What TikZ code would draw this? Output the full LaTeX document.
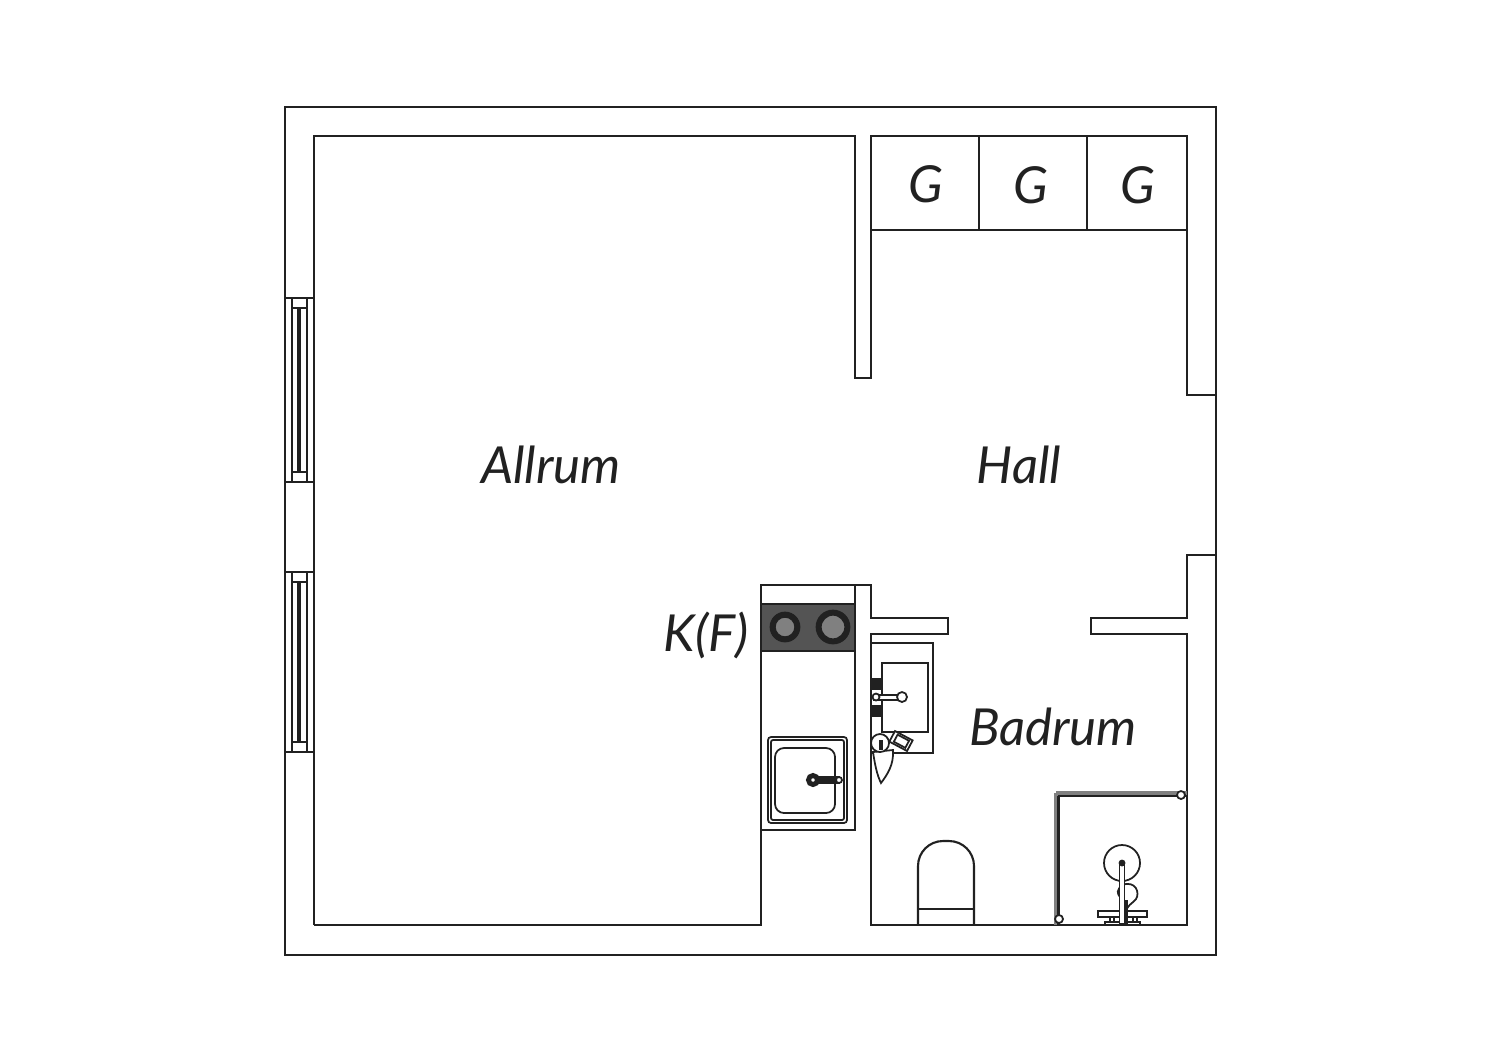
\documentclass[tikz,border=0pt]{standalone}
\usepackage{fontspec}
\setmainfont{Lato}
\definecolor{linegray}{gray}{0.13}
\definecolor{hobgray}{gray}{0.33}
\definecolor{ringgray}{gray}{0.5}
\tikzset{
  wall/.style={draw=linegray,line width=0.6pt},
  fixture/.style={draw=linegray,line width=0.5pt},
  roomlabel/.style={font=\fontsize{14.5}{16}\selectfont\itshape,text=linegray,inner sep=0pt},
}
\begin{document}
\begin{tikzpicture}[x=0.01cm,y=-0.01cm]
\useasboundingbox (0,0) rectangle (1500,1060);
% walls
\draw[wall](285,107) rectangle (1216,955);
\draw[wall](314,925)--(314,136)--(855,136)--(855,378)--(871,378)--(871,136)--(1187,136)--(1187,395)--(1216,395);
\draw[wall](1216,555)--(1187,555)--(1187,618)--(1091,618)--(1091,634)--(1187,634)--(1187,925)--(871,925)--(871,634)--(948,634)--(948,618)--(871,618)--(871,585)--(761,585)--(761,925)--(314,925);
\draw[wall](855,585)--(855,830)--(761,830);
% wardrobes
\draw[wall](871,230)--(1187,230);
\draw[wall](979,136)--(979,230);
\draw[wall](1087,136)--(1087,230);
% windows
\draw[fixture](285,298)--(314,298);
\draw[fixture](285,482)--(314,482);
\draw[fixture](292,298)--(292,482);
\draw[fixture](307,298)--(307,482);
\draw[fixture](292,308)--(307,308);
\draw[fixture](292,472)--(307,472);
\draw[fixture,line width=0.9pt](299,308)--(299,472);
\draw[fixture](285,572)--(314,572);
\draw[fixture](285,752)--(314,752);
\draw[fixture](292,572)--(292,752);
\draw[fixture](307,572)--(307,752);
\draw[fixture](292,582)--(307,582);
\draw[fixture](292,742)--(307,742);
\draw[fixture,line width=0.9pt](299,582)--(299,742);
% hob
\draw[wall,fill=hobgray](761,604) rectangle (855,651);
\draw[fixture,fill=ringgray,line width=1.5pt](785,627) circle [radius=12];
\draw[fixture](785,627) circle [radius=14.5];
\draw[fixture,fill=ringgray,line width=1.5pt](833,627) circle [radius=14];
\draw[fixture](833,627) circle [radius=16.5];
% kitchen sink
\draw[fixture,rounded corners=0.03cm](768,737) rectangle (847,823);
\draw[fixture,rounded corners=0.02cm](771,740) rectangle (844,820);
\draw[fixture,rounded corners=0.09cm](775,748) rectangle (835,813);
\draw[fixture,line width=0.9pt,fill=white](818,778) rectangle (838,782);
\draw[fixture,line width=1.4pt,fill=white](813,780) circle [radius=4.5];
\draw[fixture,fill=white](839,780) circle [radius=3];
% basin
\draw[fixture](871,643)--(933,643)--(933,753)--(871,753);
\draw[fixture](882,663) rectangle (928,732);
\draw[fixture,fill=linegray](871,679) rectangle (881,689);
\draw[fixture,fill=linegray](871,706) rectangle (881,716);
\draw[fixture,fill=white](874,695) rectangle (898,700);
\draw[fixture,fill=white](876,697) circle [radius=3.5];
\draw[fixture,fill=white](902,697) circle [radius=5];
% soap and dish
\draw[fixture,fill=white,rotate around={-28:(901,741)}](891,735) rectangle (911,747);
\draw[fixture,rotate around={-28:(901,741)}](895,737) rectangle (908,745);
\draw[fixture,fill=white](873,752) .. controls (875,765) and (877,775) .. (881,783) .. controls (887,775) and (894,765) .. (893,750) -- cycle;
\draw[fixture,fill=white](880,743) circle [radius=9];
\draw[fixture,line width=0.9pt](881,740)--(881,750);
% toilet
\draw[wall](918,925)--(918,866) arc (180:270:25) -- (949,841) arc (270:360:25) -- (974,925);
\draw[wall](918,909)--(974,909);
% shower
\draw[fixture,draw=ringgray,line width=1pt](1056,793)--(1187,793);
\draw[fixture,line width=0.8pt](1058,796)--(1187,796);
\draw[fixture,draw=ringgray,line width=1pt](1056,793)--(1056,925);
\draw[fixture,line width=0.8pt](1058.5,796)--(1058.5,925);
\draw[fixture,fill=white](1181,795) circle [radius=4];
\draw[fixture,fill=white](1059,919) circle [radius=4];
\draw[fixture](1122,863) circle [radius=18];
\draw[fixture](1122,885) .. controls (1136,880) and (1140,893) .. (1136,899) .. controls (1132,904) and (1127,905) .. (1126,912);
\draw[fixture,line width=0.9pt](1120,888) .. controls (1118,890) and (1118,893) .. (1120,896);
\draw[fixture,fill=white](1098,911) rectangle (1147,917);
\draw[fixture](1110,917)--(1110,922);
\draw[fixture](1114,917)--(1114,922);
\draw[fixture](1133,917)--(1133,922);
\draw[fixture](1137,917)--(1137,922);
\draw[fixture,fill=white](1105,922) rectangle (1140,925);
\draw[fixture,fill=white](1119.5,863) rectangle (1124.5,924);
\draw[fixture,fill=linegray](1122,863) circle [radius=2.5];
\draw[fixture,line width=0.9pt](1126,900)--(1126,924);
% labels
\node[roomlabel] (allrum) at (551,465) {Allrum};
\node[roomlabel] (hall) at (1019,465) {Hall};
\node[roomlabel] (badrum) at (1053,727) {Badrum};
\node[roomlabel] (kylfrys) at (706,635) {K(F)};
\node[roomlabel] (garderob1) at (926,184) {G};
\node[roomlabel] (garderob2) at (1031,185) {G};
\node[roomlabel] (garderob3) at (1138,185) {G};
\end{tikzpicture}
\end{document}
